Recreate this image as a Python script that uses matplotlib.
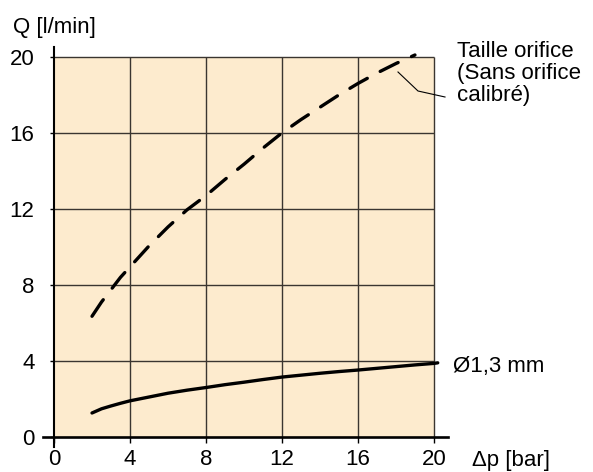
import matplotlib
matplotlib.use('Agg')
import matplotlib.pyplot as plt

plt.rcParams['font.family'] = ['Liberation Sans', 'DejaVu Sans']

# Data
dp_dash = [2, 2.5, 3, 3.5, 4, 5, 6, 7, 8, 9, 10, 11, 12, 13, 14, 15, 16, 17, 18, 19]
q_dash = [6.35, 7.1, 7.75, 8.4, 8.95, 10.05, 11.05, 11.95, 12.7, 13.55, 14.35, 15.2,
          16.0, 16.7, 17.35, 18.0, 18.6, 19.15, 19.65, 20.1]

dp_solid = [2, 2.5, 3, 3.5, 4, 5, 6, 7, 8, 9, 10, 11, 12, 13, 14, 15, 16, 17, 18, 19, 20, 20.2]
q_solid = [1.26, 1.48, 1.63, 1.77, 1.9, 2.1, 2.3, 2.46, 2.6, 2.75, 2.88, 3.02, 3.15,
           3.25, 3.35, 3.44, 3.52, 3.61, 3.7, 3.79, 3.87, 3.9]

ticks = [0, 4, 8, 12, 16, 20]
grid_lines = [4, 8, 12, 16, 20]

fig = plt.figure(figsize=(5.93, 4.72), dpi=100)
ax = fig.add_axes([43 / 593, 25 / 472, 405 / 593, 400 / 472])
ax.set_xlim(-0.58, 20.74)
ax.set_ylim(-0.53, 20.52)
ax.patch.set_alpha(0)

# tan panel and grid
ax.add_patch(plt.Rectangle((0, 0), 20, 20, facecolor='#fdebce', edgecolor='none', zorder=0))
ax.vlines(grid_lines, 0, 20, colors='#3a3530', linewidth=1.0, zorder=1)
ax.hlines(grid_lines, 0, 20, colors='#3a3530', linewidth=1.0, zorder=1)

# curves
ax.plot(dp_dash, q_dash, color='black', linewidth=2.4, dashes=(6.0, 4.4),
        dash_capstyle='round', zorder=3, clip_on=False)
ax.plot(dp_solid, q_solid, color='black', linewidth=2.4, solid_capstyle='round',
        solid_joinstyle='round', zorder=3, clip_on=False)

# axes through origin
for s in ['top', 'right']:
    ax.spines[s].set_visible(False)
ax.spines['left'].set_position(('data', 0))
ax.spines['bottom'].set_position(('data', 0))
ax.spines['left'].set_linewidth(1.5)
ax.spines['bottom'].set_linewidth(1.9)
ax.spines['left'].set_zorder(4)
ax.spines['bottom'].set_zorder(4)

ax.set_xticks(ticks)
ax.set_yticks(ticks)
ax.tick_params(axis='x', direction='out', length=4, width=1.0, pad=5, labelsize=16)
ax.tick_params(axis='y', direction='out', length=3, width=1.0, pad=11, labelsize=16)

# labels
fig.text(13 / 593, 1 - 33 / 472, 'Q [l/min]', fontsize=16, va='baseline', ha='left')
fig.text(472 / 593, 1 - 466 / 472, 'Δp [bar]', fontsize=16, va='baseline', ha='left')
fig.text(453 / 593, 1 - 372 / 472, 'Ø1,3 mm', fontsize=16, va='baseline', ha='left')
fig.text(457 / 593, 1 - 41 / 472, 'Taille orifice\n(Sans orifice\ncalibré)', fontsize=16,
         va='top', ha='left', linespacing=1.05)

# leader line for dashed curve label
fig.add_artist(plt.Line2D([398 / 593, 418 / 593, 445 / 593],
                          [1 - 72 / 472, 1 - 91 / 472, 1 - 97 / 472],
                          color='black', linewidth=0.8))

fig.savefig('out.png', dpi=100)
